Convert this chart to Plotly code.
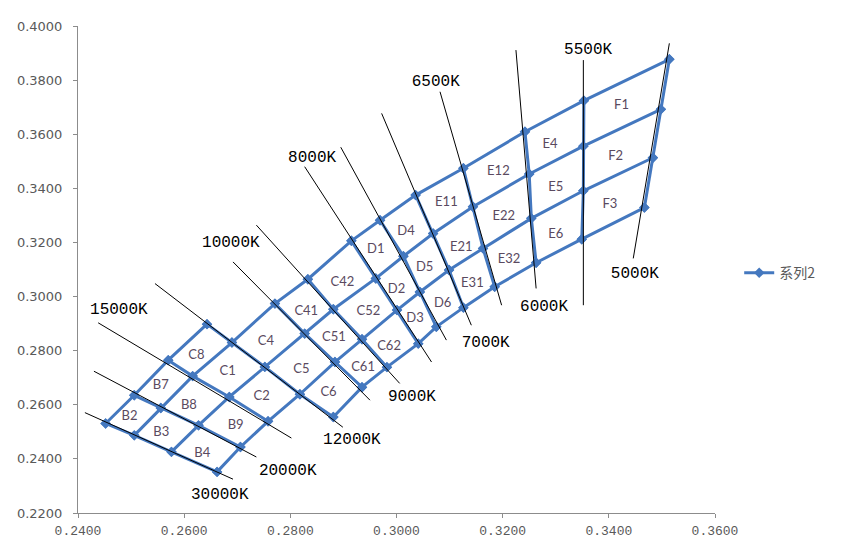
import plotly.graph_objects as go

# ---------------- data ----------------
cct_names = ["30000K", "20000K", "15000K", "12000K", "10000K", "9000K", "8000K",
             "7500K", "7000K", "6500K", "6000K", "5500K", "5000K"]

# grid points on each isotherm (top to bottom)
iso_x = [
    [0.2452, 0.2506, 0.2576, 0.2662],
    [0.2506, 0.2556, 0.2627, 0.2706],
    [0.2570, 0.2616, 0.2685, 0.2758],
    [0.2643, 0.2690, 0.2752, 0.2818, 0.2881],
    [0.2771, 0.2827, 0.2884, 0.2935],
    [0.2833, 0.2881, 0.2935, 0.2982],
    [0.2915, 0.2961, 0.3001, 0.3041],
    [0.2969, 0.3013, 0.3044, 0.3075],
    [0.3036, 0.3069, 0.3099, 0.3126],
    [0.3126, 0.3144, 0.3163, 0.3185],
    [0.3242, 0.3250, 0.3254, 0.3263],
    [0.3353, 0.3352, 0.3352, 0.3349],
    [0.3514, 0.3498, 0.3483, 0.3467],
]
iso_y = [
    [0.2531, 0.2487, 0.2426, 0.2352],
    [0.2635, 0.2588, 0.2524, 0.2444],
    [0.2765, 0.2706, 0.2629, 0.2539],
    [0.2898, 0.2830, 0.2740, 0.2639, 0.2555],
    [0.2974, 0.2863, 0.2758, 0.2665],
    [0.3064, 0.2953, 0.2842, 0.2739],
    [0.3206, 0.3067, 0.2950, 0.2826],
    [0.3282, 0.3149, 0.3017, 0.2888],
    [0.3375, 0.3233, 0.3098, 0.2959],
    [0.3474, 0.3332, 0.3178, 0.3036],
    [0.3609, 0.3453, 0.3289, 0.3125],
    [0.3724, 0.3556, 0.3391, 0.3212],
    [0.3877, 0.3692, 0.3513, 0.3329],
]
# row index of the first point on each isotherm
first_row = [0, 0, 0, 0, 1, 1, 1, 1, 1, 1, 1, 1, 1]

# black isotherm reference lines (start / end)
line_x0 = [0.2413, 0.2430, 0.2438, 0.2545, 0.2692, 0.2736, 0.2827, 0.2895, 0.2972, 0.3082, 0.3225, 0.3352, 0.3514]
line_y0 = [0.2571, 0.2724, 0.2903, 0.3048, 0.3128, 0.3264, 0.3480, 0.3552, 0.3677, 0.3757, 0.3911, 0.3874, 0.3936]
line_x1 = [0.2692, 0.2736, 0.2802, 0.2899, 0.2950, 0.3006, 0.3066, 0.3094, 0.3141, 0.3198, 0.3263, 0.3352, 0.3446]
line_y1 = [0.2325, 0.2407, 0.2477, 0.2517, 0.2617, 0.2679, 0.2758, 0.2839, 0.2894, 0.2968, 0.3030, 0.2968, 0.3141]

# temperature labels
temp_text = ["15000K", "30000K", "20000K", "12000K", "10000K", "9000K", "8000K",
             "7000K", "6500K", "6000K", "5500K", "5000K"]
temp_x = [0.2477, 0.2667, 0.2795, 0.2916, 0.2688, 0.3029, 0.2841, 0.3168, 0.3074, 0.3278, 0.3361, 0.3449]
temp_y = [0.2950, 0.2265, 0.2357, 0.2469, 0.3197, 0.2628, 0.3512, 0.2828, 0.3793, 0.2961, 0.3911, 0.3082]

# bin labels
bin_names = ["B2", "B3", "B4", "B7", "B8", "B9", "C8", "C1", "C2", "C4", "C5", "C6",
             "C41", "C51", "C61", "C42", "C52", "C62", "D1", "D2", "D3", "D4", "D5", "D6",
             "E11", "E21", "E31", "E12", "E22", "E32", "E4", "E5", "E6", "F1", "F2", "F3"]
bin_x = [0.2497, 0.2557, 0.2634, 0.2556, 0.2609, 0.2697, 0.2623, 0.2682, 0.2746, 0.2754, 0.2821, 0.2872,
         0.2830, 0.2882, 0.2937, 0.2898, 0.2947, 0.2986, 0.2961, 0.3000, 0.3035, 0.3018, 0.3053, 0.3087,
         0.3094, 0.3122, 0.3143, 0.3192, 0.3202, 0.3212, 0.3289, 0.3300, 0.3300, 0.3424, 0.3413, 0.3402]
bin_y = [0.2555, 0.2497, 0.2420, 0.2669, 0.2595, 0.2521, 0.2780, 0.2721, 0.2629, 0.2832, 0.2731, 0.2645,
         0.2943, 0.2849, 0.2738, 0.3051, 0.2943, 0.2816, 0.3172, 0.3026, 0.2919, 0.3239, 0.3108, 0.2974,
         0.3346, 0.3180, 0.3046, 0.3461, 0.3295, 0.3135, 0.3560, 0.3402, 0.3230, 0.3704, 0.3517, 0.3338]

x_ticks = [0.24, 0.26, 0.28, 0.30, 0.32, 0.34, 0.36]
y_ticks = [0.22, 0.24, 0.26, 0.28, 0.30, 0.32, 0.34, 0.36, 0.38, 0.40]

# ---------------- build paths ----------------
gx, gy = [], []
for k in range(len(cct_names)):
    gx += iso_x[k] + [None]
    gy += iso_y[k] + [None]
n_rows = max(first_row[k] + len(iso_x[k]) for k in range(len(cct_names)))
for r in range(n_rows):
    for k in range(len(cct_names)):
        i = r - first_row[k]
        if 0 <= i < len(iso_x[k]):
            gx.append(iso_x[k][i])
            gy.append(iso_y[k][i])
    gx.append(None)
    gy.append(None)

lx, ly = [], []
for a, b, c, d in zip(line_x0, line_y0, line_x1, line_y1):
    lx += [a, c, None]
    ly += [b, d, None]

blue = "#4478bf"
fig = go.Figure()
fig.add_trace(go.Scatter(x=gx, y=gy, mode="lines+markers", name="系列2",
                         line=dict(color=blue, width=3),
                         marker=dict(symbol="diamond", size=8, color=blue),
                         connectgaps=False, hoverinfo="skip"))
fig.add_trace(go.Scatter(x=lx, y=ly, mode="lines", showlegend=False,
                         line=dict(color="black", width=1), hoverinfo="skip"))
fig.add_trace(go.Scatter(x=bin_x, y=bin_y, mode="text", text=bin_names, showlegend=False,
                         textfont=dict(family="Lato", size=13, color="#5a4a60"),
                         hoverinfo="skip"))
fig.add_trace(go.Scatter(x=temp_x, y=temp_y, mode="text", text=temp_text, showlegend=False,
                         textfont=dict(family="Liberation Mono", size=16, color="black"),
                         hoverinfo="skip"))

axis_col = "#8c8c8c"
fig.update_layout(
    width=846, height=546,
    margin=dict(l=78, r=131, t=26, b=33, autoexpand=False),
    paper_bgcolor="white", plot_bgcolor="white",
    legend=dict(x=1.038, y=0.4925, xanchor="left", yanchor="middle",
                font=dict(family="Noto Sans CJK SC", size=14, color="#595959"),
                bgcolor="rgba(0,0,0,0)"),
    xaxis=dict(range=[0.24, 0.36], tickvals=x_ticks,
               ticktext=["%.4f" % v for v in x_ticks], automargin=False,
               showline=True, linecolor=axis_col, linewidth=1,
               ticks="outside", ticklen=4, tickcolor=axis_col,
               showgrid=False, zeroline=False, ticklabelstandoff=1,
               tickfont=dict(family="Liberation Mono", size=13, color="#595959")),
    yaxis=dict(range=[0.22, 0.40], tickvals=y_ticks,
               ticktext=["%.4f" % v for v in y_ticks], automargin=False,
               showline=True, linecolor=axis_col, linewidth=1,
               ticks="outside", ticklen=4, tickcolor=axis_col,
               showgrid=False, zeroline=False, ticklabelstandoff=8,
               tickfont=dict(family="DejaVu Sans", size=13, color="#595959")),
)
fig.write_html("out.html")
